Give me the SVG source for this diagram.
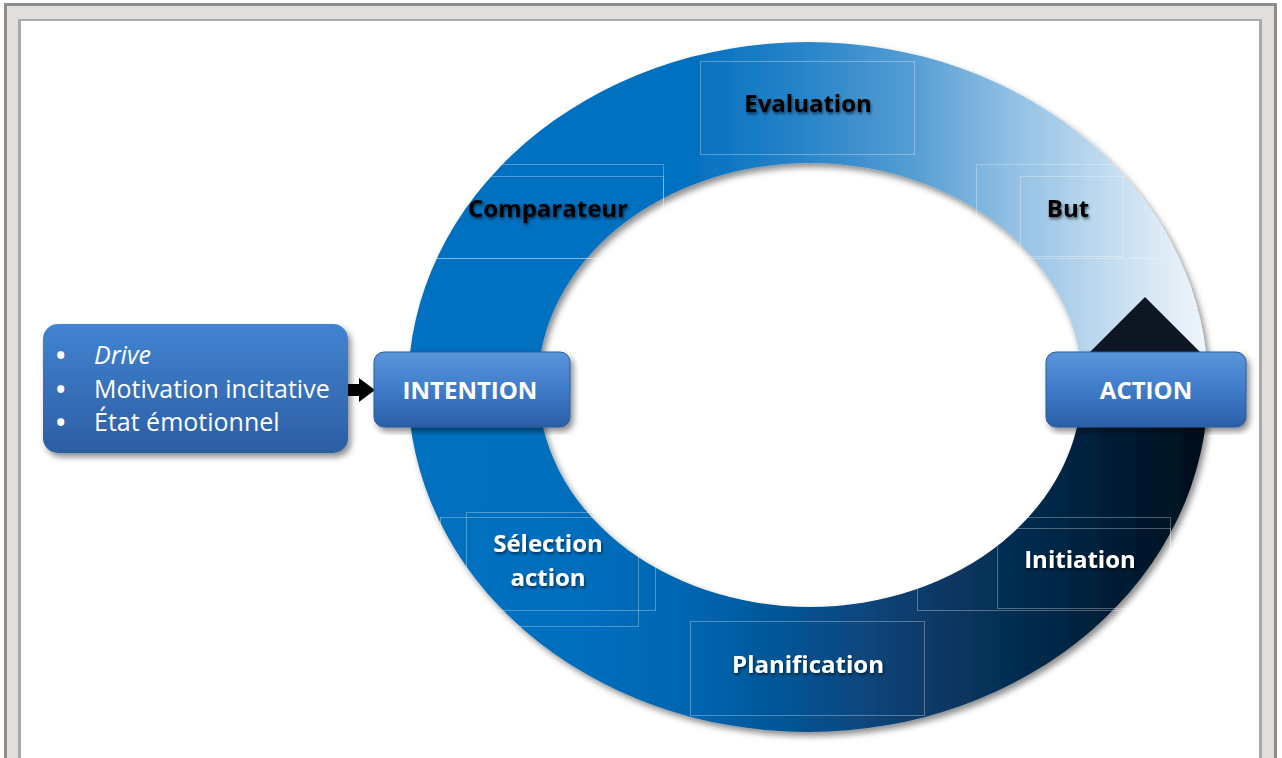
<svg xmlns="http://www.w3.org/2000/svg" width="1282" height="758" viewBox="0 0 1282 758">
<defs>
  <style>
    .lbl{font-family:"Open Sans","Liberation Sans",sans-serif;font-weight:bold;font-size:24px;text-anchor:middle}
    .dk{fill:#000000;filter:url(#tsh)}
    .wt{fill:#ffffff;filter:url(#tsh)}
    .frm{fill:none;stroke:#ffffff;stroke-opacity:0.3;stroke-width:1}
    .bl{font-family:"Open Sans","Liberation Sans",sans-serif;font-size:25px;fill:#ffffff}
    .bu{font-family:"Open Sans","Liberation Sans",sans-serif;font-size:25px;font-weight:bold;fill:#ffffff}
    .box{stroke:#2a5a9c;stroke-width:1}
  </style>
  <linearGradient id="gTop" gradientUnits="userSpaceOnUse" x1="408" y1="0" x2="1208" y2="0">
    <stop offset="0" stop-color="#0070c0"/>
    <stop offset="0.36" stop-color="#0571c0"/>
    <stop offset="0.5" stop-color="#2a85c9"/>
    <stop offset="0.63" stop-color="#559dd4"/>
    <stop offset="0.75" stop-color="#8fbfe3"/>
    <stop offset="0.93" stop-color="#d8e8f5"/>
    <stop offset="1" stop-color="#f0f6fb"/>
  </linearGradient>
  <linearGradient id="gBot" gradientUnits="userSpaceOnUse" x1="408" y1="0" x2="1208" y2="0">
    <stop offset="0" stop-color="#0070c0"/>
    <stop offset="0.22" stop-color="#006ebd"/>
    <stop offset="0.36" stop-color="#0565b0"/>
    <stop offset="0.65" stop-color="#083a68"/>
    <stop offset="0.8" stop-color="#052848"/>
    <stop offset="0.95" stop-color="#041426"/>
    <stop offset="1" stop-color="#030d18"/>
  </linearGradient>
  <linearGradient id="gBox" x1="0" y1="0" x2="0" y2="1">
    <stop offset="0" stop-color="#4283d2"/>
    <stop offset="1" stop-color="#2c5ea3"/>
  </linearGradient>
  <linearGradient id="gBtn" x1="0" y1="0" x2="0" y2="1">
    <stop offset="0" stop-color="#5a95da"/>
    <stop offset="0.5" stop-color="#3f7cc9"/>
    <stop offset="1" stop-color="#2b5ea6"/>
  </linearGradient>
  <clipPath id="cTop"><rect x="0" y="0" width="1282" height="385"/></clipPath>
  <clipPath id="cBot"><rect x="0" y="385" width="1282" height="400"/></clipPath>
  <filter id="sh" x="-10%" y="-10%" width="120%" height="120%">
    <feDropShadow dx="3" dy="4" stdDeviation="3" flood-color="#000" flood-opacity="0.45"/>
  </filter>
  <filter id="tsh" x="-10%" y="-30%" width="120%" height="160%">
    <feDropShadow dx="1" dy="2" stdDeviation="1.5" flood-color="#000" flood-opacity="0.6"/>
  </filter>
  <path id="ring" fill-rule="evenodd" d="M408,387 A400,345 0 1,0 1208,387 A400,345 0 1,0 408,387 Z M538,385 A272,222 0 1,0 1082,385 A272,222 0 1,0 538,385 Z"/>
</defs>

<!-- frame -->
<rect x="4" y="3" width="1273" height="800" fill="#8c8c8c"/>
<rect x="7" y="6" width="1267" height="800" fill="#e1dedb"/>
<rect x="18" y="19" width="1244" height="800" fill="#a9a9a9"/>
<rect x="21" y="21" width="1238" height="800" fill="#ffffff"/>

<!-- circular arrow -->
<g id="cycle" filter="url(#sh)">
  <use href="#ring" fill="url(#gTop)" clip-path="url(#cTop)"/>
  <use href="#ring" fill="url(#gBot)" clip-path="url(#cBot)"/>
  <polygon points="1145,297 1215,367 1075,367" fill="#0b1523"/>
</g>

<!-- label frames -->
<g id="frames">
  <rect class="frm" x="700.5" y="61.5" width="214" height="93"/>
  <rect class="frm" x="433.5" y="164.5" width="230" height="94"/>
  <rect class="frm" x="433.5" y="176.5" width="230" height="82"/>
  <rect class="frm" x="976.5" y="164.5" width="185" height="94"/>
  <rect class="frm" x="1020.5" y="176.5" width="103" height="80"/>
  <rect class="frm" x="440.5" y="517.5" width="215" height="93"/>
  <rect class="frm" x="466.5" y="512.5" width="172" height="114"/>
  <rect class="frm" x="690.5" y="621.5" width="234" height="94"/>
  <rect class="frm" x="917.5" y="517.5" width="253" height="93"/>
  <rect class="frm" x="997.5" y="528.5" width="173" height="80"/>
</g>

<!-- ring labels -->
<g id="lbl-evaluation"><text class="lbl dk" x="808" y="112">Evaluation</text></g>
<g id="lbl-comparateur"><text class="lbl dk" x="548" y="217">Comparateur</text></g>
<g id="lbl-but"><text class="lbl dk" x="1068" y="217">But</text></g>
<g id="lbl-selection"><text class="lbl wt" x="548" y="552">Sélection</text><text class="lbl wt" x="548" y="586">action</text></g>
<g id="lbl-planification"><text class="lbl wt" x="808" y="673">Planification</text></g>
<g id="lbl-initiation"><text class="lbl wt" x="1080" y="568">Initiation</text></g>

<!-- connector -->
<g id="connectors">
  <polygon points="348,384 359,384 359,378 375,390 359,402 359,396 348,396" fill="#000000"/>
</g>

<!-- left box -->
<g id="inputs" filter="url(#sh)">
  <rect x="43" y="324" width="305" height="129" rx="15" fill="url(#gBox)"/>
</g>
<g id="inputs-text">
  <text class="bu" x="56" y="364">•</text>
  <text class="bl" x="94" y="364" font-style="italic">Drive</text>
  <text class="bu" x="56" y="398">•</text>
  <text class="bl" x="94" y="398">Motivation incitative</text>
  <text class="bu" x="56" y="431">•</text>
  <text class="bl" x="94" y="431">État émotionnel</text>
</g>

<!-- INTENTION -->
<g id="intention">
  <rect x="374" y="352" width="196" height="75" rx="10" fill="url(#gBtn)" class="box" filter="url(#sh)"/>
  <text class="lbl" fill="#ffffff" x="470" y="399">INTENTION</text>
</g>

<!-- ACTION -->
<g id="action">
  <rect x="1046" y="352" width="200" height="75" rx="10" fill="url(#gBtn)" class="box" filter="url(#sh)"/>
  <text class="lbl" fill="#ffffff" x="1146" y="399">ACTION</text>
</g>
</svg>
